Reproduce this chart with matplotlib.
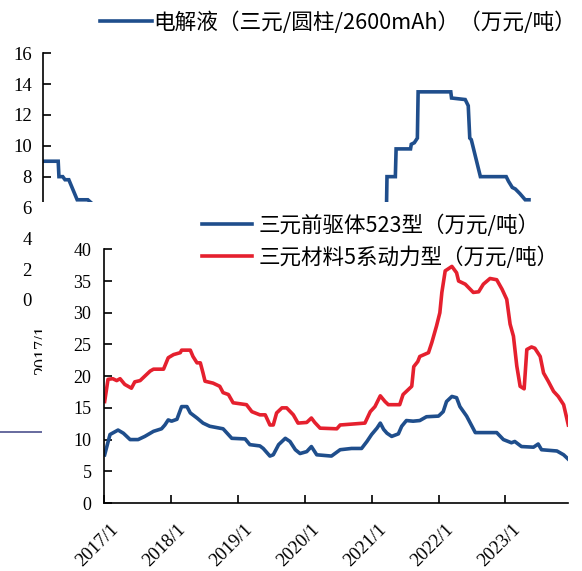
import matplotlib
matplotlib.use("Agg")
import matplotlib.pyplot as plt
import matplotlib.transforms as mtransforms
from matplotlib.patches import Rectangle
from matplotlib.lines import Line2D

# electrolyte price (top chart, partly hidden behind the lower chart)
elec_t = [2017.00, 2017.20, 2017.21, 2017.26, 2017.29, 2017.34, 2017.45, 2017.59,
          2017.75, 2018.50, 2019.50, 2020.50, 2021.40, 2021.52,
          2021.53, 2021.64, 2021.65, 2021.84, 2021.85, 2021.89, 2021.93, 2021.94,
          2022.37, 2022.38, 2022.56, 2022.60, 2022.62, 2022.64, 2022.76, 2023.10,
          2023.13, 2023.18, 2023.22, 2023.28, 2023.35, 2023.40]
elec_v = [9.0, 9.0, 8.0, 8.0, 7.8, 7.8, 6.5, 6.5,
          5.8, 5.2, 4.4, 3.8, 4.5, 5.0,
          8.0, 8.0, 9.8, 9.8, 10.1, 10.2, 10.5, 13.5,
          13.5, 13.1, 13.0, 12.6, 10.5, 10.4, 8.0, 8.0,
          7.7, 7.3, 7.2, 6.9, 6.5, 6.5]

# NCM523 precursor
pre_t = [2017.01, 2017.09, 2017.21, 2017.29, 2017.39, 2017.51, 2017.61, 2017.74, 2017.86,
         2017.91, 2017.96, 2018.01, 2018.09, 2018.16, 2018.24, 2018.29, 2018.39, 2018.48,
         2018.58, 2018.78, 2018.91, 2019.11, 2019.18, 2019.33, 2019.38, 2019.48, 2019.53,
         2019.61, 2019.71, 2019.78, 2019.86, 2019.93, 2020.03, 2020.10, 2020.18, 2020.40,
         2020.53, 2020.70, 2020.85, 2020.93, 2021.00, 2021.08, 2021.13, 2021.18, 2021.23,
         2021.30, 2021.40, 2021.45, 2021.52, 2021.62, 2021.72, 2021.82, 2022.00, 2022.07,
         2022.12, 2022.20, 2022.27, 2022.32, 2022.42, 2022.55, 2022.87, 2022.97, 2023.09,
         2023.14, 2023.24, 2023.42, 2023.49, 2023.54, 2023.77, 2023.87, 2023.94]
pre_v = [7.6, 10.8, 11.5, 11.0, 10.0, 10.0, 10.5, 11.3, 11.7,
         12.3, 13.1, 12.9, 13.2, 15.2, 15.2, 14.2, 13.4, 12.6,
         12.1, 11.7, 10.2, 10.1, 9.2, 9.0, 8.6, 7.4, 7.6,
         9.2, 10.2, 9.7, 8.4, 7.8, 8.1, 8.9, 7.6, 7.4,
         8.4, 8.6, 8.6, 9.7, 10.8, 11.8, 12.6, 11.6, 11.0,
         10.5, 10.9, 12.1, 13.0, 12.9, 13.0, 13.6, 13.7, 14.4,
         16.0, 16.8, 16.6, 15.2, 13.7, 11.1, 11.1, 10.0, 9.5,
         9.7, 8.9, 8.8, 9.3, 8.4, 8.2, 7.6, 6.9]

# NCM5 cathode material
cat_t = [2017.01, 2017.06, 2017.13, 2017.19, 2017.24, 2017.31, 2017.41, 2017.46, 2017.54,
         2017.61, 2017.69, 2017.74, 2017.89, 2017.96, 2018.04, 2018.14, 2018.16, 2018.29,
         2018.33, 2018.39, 2018.44, 2018.48, 2018.51, 2018.63, 2018.73, 2018.78, 2018.86,
         2018.93, 2019.13, 2019.21, 2019.33, 2019.41, 2019.48, 2019.53, 2019.58, 2019.66,
         2019.73, 2019.83, 2019.90, 2020.03, 2020.10, 2020.15, 2020.23, 2020.48, 2020.53,
         2020.90, 2020.98, 2021.05, 2021.13, 2021.20, 2021.25, 2021.42, 2021.47, 2021.57,
         2021.60, 2021.63, 2021.69, 2021.72, 2021.85, 2021.90, 2021.97, 2022.02, 2022.05,
         2022.10, 2022.20, 2022.27, 2022.30, 2022.40, 2022.52, 2022.60, 2022.67, 2022.77,
         2022.87, 2022.95, 2023.02, 2023.07, 2023.12, 2023.17, 2023.22, 2023.28, 2023.32,
         2023.39, 2023.44, 2023.52, 2023.57, 2023.64, 2023.72, 2023.79, 2023.87, 2023.94]
cat_v = [16.0, 19.5, 19.6, 19.3, 19.6, 18.7, 18.1, 19.1, 19.3,
         20.0, 20.8, 21.1, 21.1, 22.9, 23.4, 23.7, 24.1, 24.1,
         23.1, 22.1, 22.1, 20.5, 19.2, 18.9, 18.4, 17.4, 17.1,
         15.8, 15.5, 14.4, 13.9, 13.9, 12.3, 12.3, 14.2, 15.0,
         15.0, 13.9, 12.6, 12.7, 13.4, 12.7, 11.8, 11.7, 12.3,
         12.6, 14.4, 15.2, 16.9, 16.0, 15.5, 15.5, 17.1, 18.1,
         18.4, 21.5, 22.3, 23.1, 23.7, 25.3, 27.9, 30.0, 33.2,
         36.6, 37.3, 36.3, 35.0, 34.5, 33.2, 33.3, 34.5, 35.4,
         35.2, 33.7, 32.1, 28.2, 26.3, 21.6, 18.4, 18.0, 24.2,
         24.6, 24.4, 23.1, 20.5, 19.2, 17.6, 16.8, 15.5, 12.3]

years = [2017, 2018, 2019, 2020, 2021, 2022, 2023]
year_labels = [str(y) + "/1" for y in years]

BLUE = "#1F4E8C"
RED = "#E5202E"
W, H = 582, 571
cjk = ["Noto Sans CJK SC", "DejaVu Sans"]

plt.rcParams["font.family"] = ["Liberation Serif"]


def box(x0, y0, x1, y1):
    return [x0 / W, 1 - y1 / H, (x1 - x0) / W, (y1 - y0) / H]


fig = plt.figure(figsize=(W / 100, H / 100), dpi=100)

# ---- top chart
ax1 = fig.add_axes(box(43, 53.3, 570, 300))
ax1.plot(elec_t, elec_v, color=BLUE, lw=2.6, solid_joinstyle="miter",
         label="电解液（三元/圆柱/2600mAh）（万元/吨）")
ax1.set_xlim(2017.0, 2023.94)
ax1.set_ylim(0, 16)
ax1.set_yticks(range(0, 17, 2))
ax1.set_xticks(years)
ax1.set_xticklabels(year_labels, rotation=90)
ax1.tick_params(axis="y", direction="in", length=6, width=1.2, labelsize=13.5, pad=8)
ax1.tick_params(axis="x", direction="in", length=6, width=1.2, labelsize=13, pad=18)
for s in ["top", "right"]:
    ax1.spines[s].set_visible(False)
for s in ["left", "bottom"]:
    ax1.spines[s].set_linewidth(1.2)
ax1.legend(loc="center left", bbox_to_anchor=(100 / W, 1 - 22.7 / H),
           bbox_transform=fig.transFigure, frameon=False, borderpad=0,
           borderaxespad=0, handlelength=2.4, handletextpad=0.05,
           prop={"family": cjk, "size": 15.6})
ax1.set_zorder(0)

# white block of the lower chart covering the top one
fig.add_artist(Rectangle((42 / W, 0), 1, 1 - 202 / H, transform=fig.transFigure,
                         facecolor="white", edgecolor="none", zorder=1))
fig.add_artist(Line2D([0, 41.7 / W], [1 - 431.7 / H] * 2, transform=fig.transFigure,
                      color="#5A5F96", lw=1.3, zorder=0.5))

# ---- bottom chart
ax2 = fig.add_axes(box(104, 249.3, 568.3, 503))
ax2.set_facecolor("none")
ax2.plot(pre_t, pre_v, color=BLUE, lw=2.6, label="三元前驱体523型（万元/吨）")
ax2.plot(cat_t, cat_v, color=RED, lw=2.6, label="三元材料5系动力型（万元/吨）")
ax2.set_xlim(2017.0, 2023.94)
ax2.set_ylim(0, 40)
ax2.set_yticks(range(0, 41, 5))
ax2.set_xticks(years)
ax2.set_xticklabels(year_labels, rotation=45, ha="right", va="top",
                    rotation_mode="anchor")
ax2.tick_params(axis="y", direction="in", length=6, width=1.2, labelsize=13, pad=9)
ax2.tick_params(axis="x", direction="in", length=6, width=1.2, labelsize=13.5, pad=13)
shift = mtransforms.ScaledTranslation(6 / 100, 0, fig.dpi_scale_trans)
for lab in ax2.get_xticklabels():
    lab.set_transform(lab.get_transform() + shift)
for s in ["top", "right"]:
    ax2.spines[s].set_visible(False)
for s in ["left", "bottom"]:
    ax2.spines[s].set_linewidth(1.2)
ax2.legend(loc="center left", bbox_to_anchor=(202 / W, 1 - 241.4 / H),
           bbox_transform=fig.transFigure, frameon=False, borderpad=0,
           borderaxespad=0, handlelength=2.3, handletextpad=0.35, labelspacing=0.45,
           prop={"family": cjk, "size": 15.5})
ax2.set_zorder(2)

fig.savefig("out.png", dpi=100)
